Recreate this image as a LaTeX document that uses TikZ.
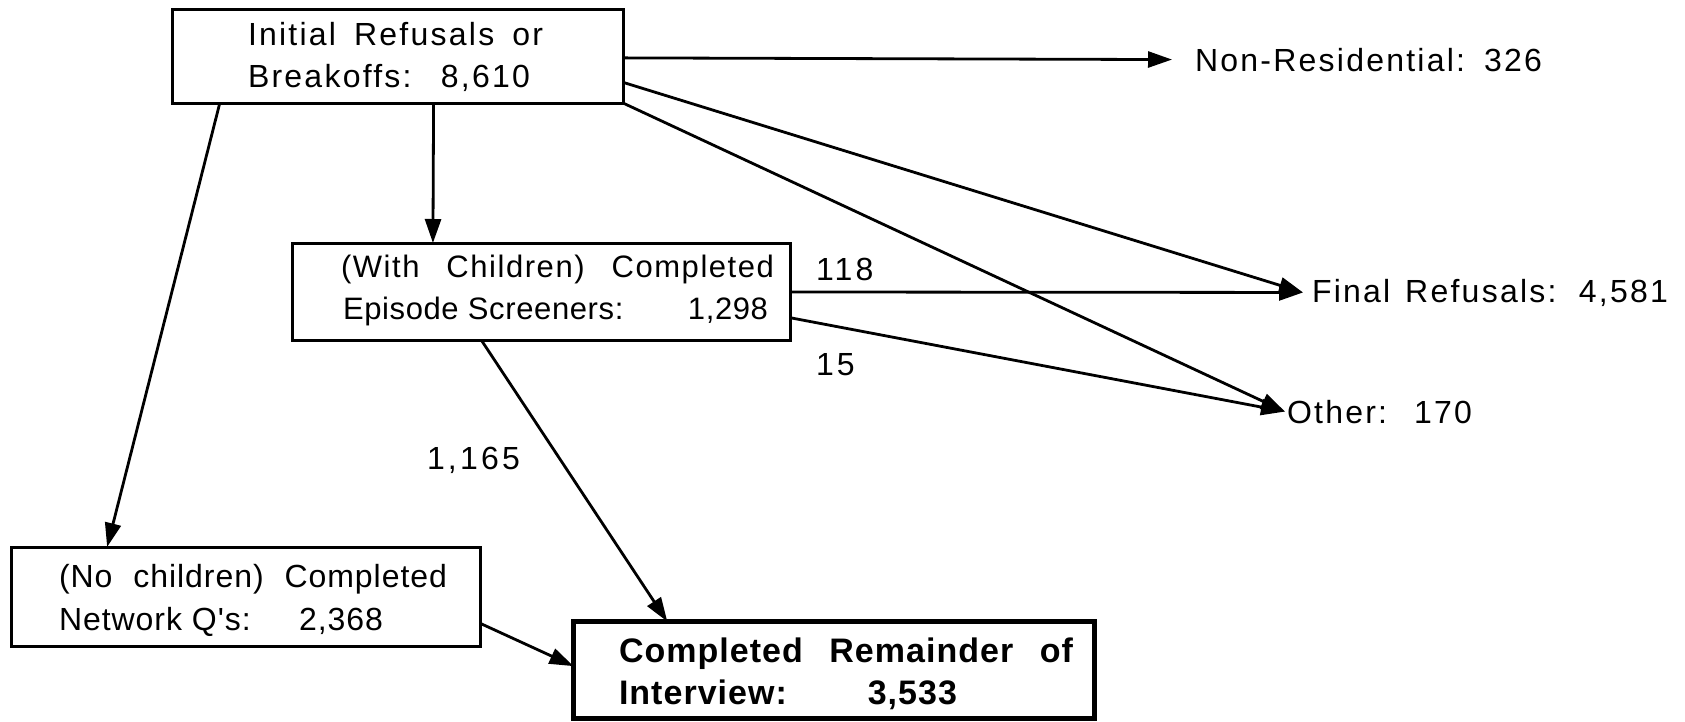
\documentclass[tikz,border=0pt]{standalone}
\usepackage{fontspec}
\setmainfont{Liberation Sans}
\newfontfamily\spacedfont[LetterSpace=7]{Liberation Sans}
\newfontfamily\lightspaced[LetterSpace=3]{Liberation Sans}
\newfontfamily\midspaced[LetterSpace=2]{Liberation Sans}
\newfontfamily\widespaced[LetterSpace=5]{Liberation Sans}
\newfontfamily\numfont[LetterSpace=10]{Liberation Sans}
\newfontfamily\boldspaced[LetterSpace=3]{Liberation Sans Bold}
\usetikzlibrary{arrows.meta,calc}
\newcommand{\fitline}[2]{\makebox[#1][s]{#2}}
\begin{document}
\begin{tikzpicture}[x=1pt,y=-1pt,
  boxa/.style={draw,line width=3pt,inner sep=0pt,outer sep=0pt},
  boxb/.style={draw,line width=5pt,inner sep=0pt,outer sep=0pt},
  txt/.style={anchor=base west,inner sep=0pt,outer sep=0pt,font=\fontsize{32}{38}\selectfont},
  txtb/.style={txt,font=\fontsize{34}{40}\selectfont},
  txtc/.style={txt,font=\fontsize{31}{37}\selectfont},
  conn/.style={line width=2.8pt,-{Triangle[length=24pt,width=16pt]}}
]
\useasboundingbox (0,0) rectangle (1685,721);
% boxes
\node[boxa,minimum width=451pt,minimum height=94pt] (b1) at (397.5,56) {};
\node[boxa,minimum width=498pt,minimum height=97pt] (b2) at (541,291.5) {};
\node[boxa,minimum width=469pt,minimum height=99pt] (b3) at (245.5,596.5) {};
\node[boxb,minimum width=521pt,minimum height=97pt] (b4) at (834,670) {};
% box texts
\node[txt] (b1l1) at (248,45) {\spacedfont\fitline{295pt}{Initial Refusals or}};
\node[txt] (b1l2) at (248,87) {\spacedfont\fitline{282pt}{Breakoffs: 8,610}};
\node[txtc] (b2l1) at (341,277) {\widespaced\fitline{433pt}{(With Children) Completed}};
\node[txtc] (b2l2) at (343,319) {\midspaced\fitline{425pt}{Episode Screeners:\hfill 1,298}};
\node[txt] (b3l1) at (59,587) {\lightspaced\fitline{388pt}{(No children) Completed}};
\node[txt] (b3l2) at (59,630) {\lightspaced\fitline{324pt}{Network Q's:\hfill 2,368}};
\node[txtb] (b4l1) at (619,662) {\boldspaced\fitline{454pt}{Completed Remainder of}};
\node[txtb] (b4l2) at (619,704) {\boldspaced\fitline{338pt}{Interview:\hfill 3,533}};
% outcome labels
\node[txt] (nonres) at (1195,71) {\spacedfont\fitline{347pt}{Non-Residential: 326}};
\node[txt] (final) at (1312,302) {\spacedfont\fitline{356pt}{Final Refusals: 4,581}};
\node[txt] (other) at (1287,423) {\spacedfont\fitline{185pt}{Other: 170}};
% flow numbers
\node[txt] (n118) at (816,280) {\numfont 118};
\node[txt] (n15) at (816,375) {\numfont 15};
\node[txt] (n1165) at (427,469) {\numfont 1,165};
% connectors
\draw[conn] ($(b1.north east)!0.52!(b1.south east)$) -- ([xshift=-23pt]nonres.west);
\draw[conn] ($(b1.north east)!0.78!(b1.south east)$) -- ([xshift=-9pt]final.west);
\draw[conn] (b1.south east) -- ([xshift=-2pt]other.west);
\draw[conn] ($(b1.south west)!0.58!(b1.south east)$) -- ($(b2.north west)!0.283!(b2.north east)$);
\draw[conn] ($(b1.south west)!0.106!(b1.south east)$) -- ($(b3.north west)!0.205!(b3.north east)$);
\draw[conn] ($(b2.north east)!0.505!(b2.south east)$) -- ([xshift=-9pt]final.west);
\draw[conn] ($(b2.north east)!0.77!(b2.south east)$) -- ([xshift=-2pt]other.west);
\draw[conn] ($(b2.south west)!0.38!(b2.south east)$) -- ($(b4.north west)!0.18!(b4.north east)$);
\draw[conn] ($(b3.north east)!0.77!(b3.south east)$) -- ($(b4.north west)!0.46!(b4.south west)$);
\end{tikzpicture}
\end{document}
